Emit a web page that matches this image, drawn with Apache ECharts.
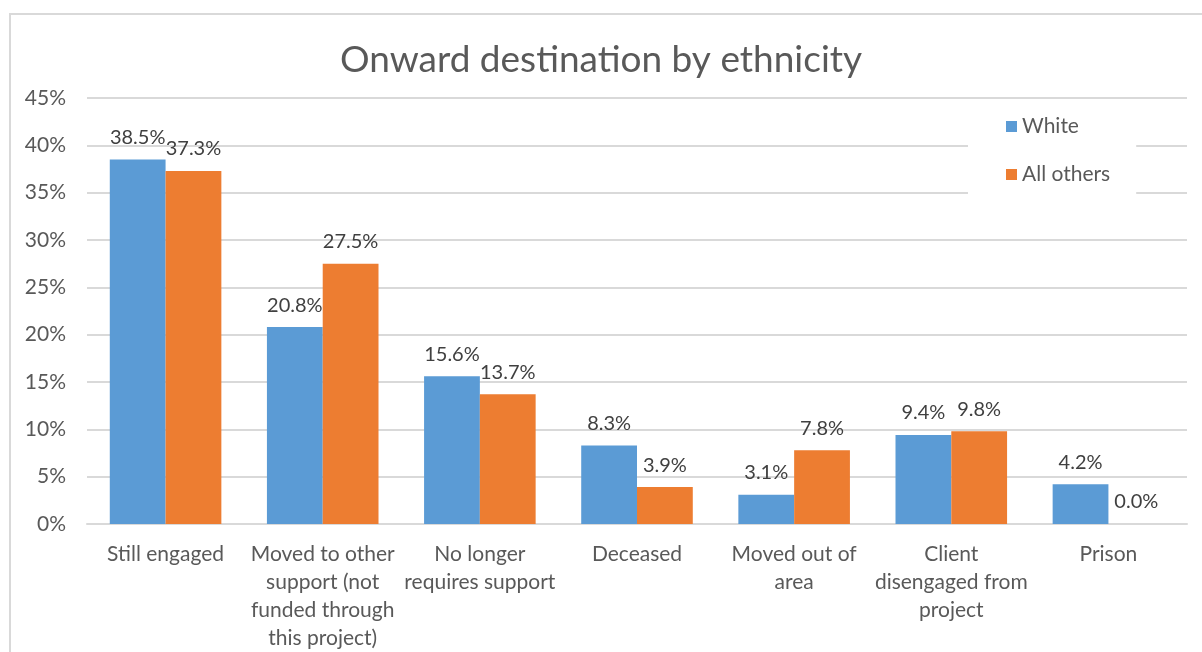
<!DOCTYPE html>
<html>
<head>
<meta charset="utf-8">
<script src="https://cdn.jsdelivr.net/npm/echarts@6/dist/echarts.min.js"></script>
<style>
  html, body { margin: 0; padding: 0; background: #fff; overflow: hidden; }
  .frame {
    position: absolute; left: 9px; top: 13px;
    width: 1300px; height: 1000px;
    border: 2px solid #d9d9d9;
  }
  #chart { position: absolute; left: 0; top: 0; width: 1202px; height: 652px; }
</style>
</head>
<body>
<div class="frame"></div>
<div id="chart"></div>
<script>
// categories along the x axis
const categories = [
  'Still engaged',
  'Moved to other\nsupport (not\nfunded through\nthis project)',
  'No longer\nrequires support',
  'Deceased',
  'Moved out of\narea',
  'Client\ndisengaged from\nproject',
  'Prison'
]

// values in percent
const whiteValues = [38.5, 20.8, 15.6, 8.3, 3.1, 9.4, 4.2]
const otherValues = [37.3, 27.5, 13.7, 3.9, 7.8, 9.8, 0.0]

const textColor = '#595959'
const fontFamily = 'Lato, "Open Sans", sans-serif'

const chart = echarts.init(document.getElementById('chart'))

const barLabel = {
  show: true,
  position: 'top',
  distance: 12,
  fontSize: 20,
  fontFamily: fontFamily,
  color: '#404040',
  formatter: (p) => p.value.toFixed(1) + '%'
}

chart.setOption({
  animation: false,
  textStyle: { fontFamily: fontFamily },
  title: {
    text: 'Onward destination by ethnicity',
    left: 'center',
    top: 37,
    textStyle: { fontSize: 37, fontWeight: 'normal', color: textColor, fontFamily: fontFamily }
  },
  legend: {
    orient: 'vertical',
    left: 968,
    top: 104,
    padding: [12, 26, 14, 38],
    backgroundColor: '#fff',
    itemWidth: 11,
    itemHeight: 11,
    itemGap: 27,
    icon: 'rect',
    textStyle: { fontSize: 21, color: textColor, fontFamily: fontFamily },
    data: ['White', 'All others']
  },
  grid: { left: 87, right: 15, top: 98, bottom: 127 },
  xAxis: {
    type: 'category',
    data: categories,
    axisLine: { lineStyle: { color: '#d9d9d9', width: 2 } },
    axisTick: { show: false },
    axisLabel: {
      interval: 0,
      margin: 16,
      fontSize: 21,
      lineHeight: 28,
      color: textColor,
      fontFamily: fontFamily
    }
  },
  yAxis: {
    type: 'value',
    min: 0,
    max: 45,
    interval: 5,
    axisLine: { show: false },
    axisTick: { show: false },
    splitLine: { lineStyle: { color: '#d9d9d9', width: 2 } },
    axisLabel: {
      margin: 21,
      fontSize: 21,
      color: textColor,
      fontFamily: fontFamily,
      formatter: '{value}%'
    }
  },
  series: [
    {
      name: 'White',
      type: 'bar',
      data: whiteValues,
      barGap: '0%',
      barCategoryGap: '29%',
      itemStyle: { color: '#5B9BD5' },
      label: barLabel
    },
    {
      name: 'All others',
      type: 'bar',
      data: otherValues,
      itemStyle: { color: '#ED7D31' },
      label: barLabel
    }
  ]
})
</script>
</body>
</html>
